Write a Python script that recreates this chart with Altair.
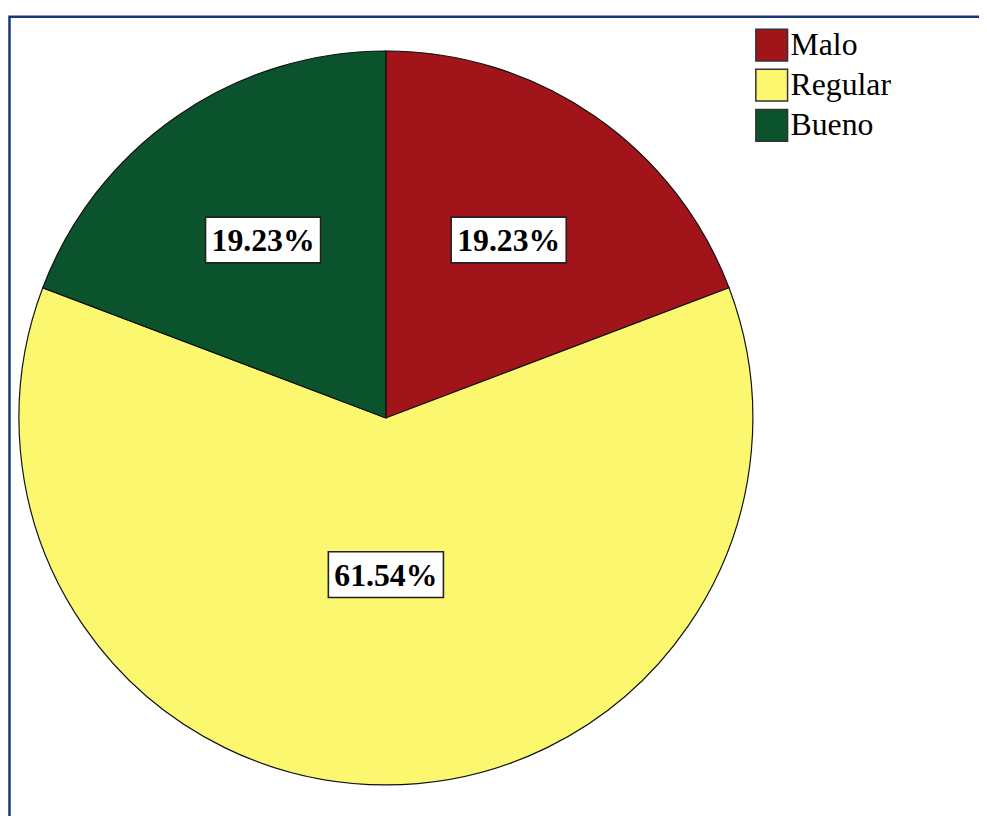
import altair as alt
import pandas as pd

categories = ["Malo", "Regular", "Bueno"]
percentages = [19.23, 61.54, 19.23]
colors = ["#A1151A", "#FBF870", "#0B532C"]

df = pd.DataFrame({"categoria": categories, "pct": percentages, "idx": list(range(len(categories)))})

CX, CY, R = 381, 410, 370

base = alt.Chart(df)

frame = alt.Chart(pd.DataFrame({"a": [0]})).mark_rect(
    fill="white", stroke="#17377A", strokeWidth=2.5
).encode(x=alt.value(1.5), x2=alt.value(3000), y=alt.value(5.5), y2=alt.value(3000))

pie = base.mark_arc(radius=R, stroke="#111111", strokeWidth=1.2).encode(
    x=alt.value(CX),
    y=alt.value(CY),
    theta=alt.Theta("pct:Q", stack=True),
    order=alt.Order("idx:Q"),
    color=alt.Color(
        "categoria:N",
        scale=alt.Scale(domain=categories, range=colors),
        sort=categories,
        legend=alt.Legend(
            title=None,
            orient="none",
            legendX=753,
            legendY=17,
            symbolType="square",
            symbolSize=1024,
            symbolStrokeColor="#333333",
            symbolStrokeWidth=1.5,
            labelFont="Liberation Serif",
            labelFontSize=32,
            labelColor="black",
            labelOffset=2,
            rowPadding=2.5,
            symbolOffset=0,
            padding=0,
        ),
    ),
)

lab = base.transform_window(
    cum="sum(pct)", sort=[alt.SortField("idx", order="ascending")], frame=[None, 0]
).transform_calculate(
    mid="(datum.cum - datum.pct / 2) / 100 * 2 * PI",
    rr="datum.pct > 50 ? 158 : 218",
    lx=f"{CX} + datum.rr * sin(datum.mid)",
    ly=f"{CY} - datum.rr * cos(datum.mid)",
    txt="format(datum.pct, '.2f') + '%'",
)

boxes = lab.mark_point(
    shape="M-1,-0.397L1,-0.397L1,0.397L-1,0.397Z",
    size=116 * 116,
    filled=True,
    fill="white",
    stroke="#222222",
    strokeWidth=1.6,
    opacity=1,
).encode(x=alt.X("lx:Q", scale=None, axis=None), y=alt.Y("ly:Q", scale=None, axis=None))

texts = lab.mark_text(
    font="Liberation Serif", fontSize=32, fontWeight="bold", color="black",
    align="center", baseline="middle", dy=1,
).encode(x=alt.X("lx:Q", scale=None, axis=None), y=alt.Y("ly:Q", scale=None, axis=None), text="txt:N")

chart = alt.layer(frame, pie, boxes, texts).properties(
    width=979, height=808, padding=0, autosize=alt.AutoSizeParams(type="none"),
    background="white",
).configure_view(stroke=None)

chart.save("out.html", embed_options={"renderer": "svg", "actions": False})
